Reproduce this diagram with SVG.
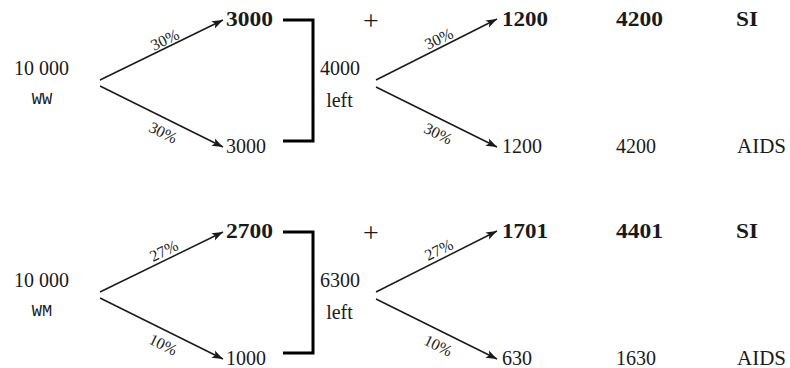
<svg xmlns="http://www.w3.org/2000/svg" width="790" height="368" viewBox="0 0 790 368" font-family="'Liberation Serif', serif">
<defs>
<marker id="arr" markerUnits="userSpaceOnUse" markerWidth="12" markerHeight="9" refX="11" refY="4.5" orient="auto" viewBox="0 0 12 9">
<path d="M0,0.5 L11,4.5 L0,8.5 L2.5,4.5 Z" fill="#1a1a1a"/>
</marker>
</defs>
<style>
text{font-family:"Liberation Serif","Times New Roman",serif;font-size:20px;fill:#1a1a1a}
.b{font-weight:bold}
.m{font-family:"Liberation Mono","DejaVu Sans Mono",monospace;font-size:17px}
.p{font-size:16px;text-anchor:middle}
.c{text-anchor:middle}
.plus{font-size:28px;text-anchor:middle}
.ln{stroke:#1a1a1a;stroke-width:1.5;fill:none;marker-end:url(#arr)}
.br{stroke:#000;stroke-width:3;fill:none}
</style>
<rect width="790" height="368" fill="#fff"/>
<g id="connectors">
<line class="ln" x1="100" y1="80" x2="223" y2="20"/>
<line class="ln" x1="100" y1="86" x2="223" y2="147"/>
<line class="ln" x1="376" y1="80" x2="497" y2="19"/>
<line class="ln" x1="376" y1="87" x2="497" y2="147"/>
<line class="ln" x1="100" y1="292" x2="223" y2="232"/>
<line class="ln" x1="100" y1="298" x2="223" y2="359"/>
<line class="ln" x1="376" y1="292" x2="497" y2="231"/>
<line class="ln" x1="376" y1="299" x2="497" y2="359"/>
<path class="br" d="M283,20 H313 V141 H283"/>
<path class="br" d="M283,232 H313 V353 H283"/>
<g transform="translate(165,40) rotate(-26)"><text class="p" y="5">30%</text></g>
<g transform="translate(163,133) rotate(26)"><text class="p" y="5">30%</text></g>
<g transform="translate(439,39) rotate(-26)"><text class="p" y="5">30%</text></g>
<g transform="translate(438,134) rotate(26)"><text class="p" y="5">30%</text></g>
<g transform="translate(164,251) rotate(-26)"><text class="p" y="5">27%</text></g>
<g transform="translate(163,345) rotate(26)"><text class="p" y="5">10%</text></g>
<g transform="translate(439,250) rotate(-26)"><text class="p" y="5">27%</text></g>
<g transform="translate(438,346) rotate(26)"><text class="p" y="5">10%</text></g>
</g>
<g id="ww"><text class="c" x="41.5" y="75">10 000</text><text class="m c" x="42" y="104">WW</text></g>
<g id="ww-si1"><text class="b" x="226" y="26" textLength="47" lengthAdjust="spacingAndGlyphs">3000</text></g>
<g id="ww-aids1"><text x="226" y="153">3000</text></g>
<g id="ww-left"><text class="c" x="340" y="75">4000</text><text class="c" x="339.5" y="107">left</text></g>
<g id="ww-plus"><text class="plus" x="371" y="30">+</text></g>
<g id="ww-si2"><text class="b" x="502" y="26" textLength="46" lengthAdjust="spacingAndGlyphs">1200</text></g>
<g id="ww-aids2"><text x="502" y="153">1200</text></g>
<g id="ww-si-total"><text class="b" x="616" y="26" textLength="47" lengthAdjust="spacingAndGlyphs">4200</text><text class="b" x="736" y="26" textLength="22" lengthAdjust="spacingAndGlyphs">SI</text></g>
<g id="ww-aids-total"><text x="616" y="153">4200</text><text x="737" y="153" textLength="49" lengthAdjust="spacingAndGlyphs">AIDS</text></g>
<g id="wm"><text class="c" x="41.5" y="287">10 000</text><text class="m c" x="42" y="316">WM</text></g>
<g id="wm-si1"><text class="b" x="226" y="238" textLength="47" lengthAdjust="spacingAndGlyphs">2700</text></g>
<g id="wm-aids1"><text x="226" y="365">1000</text></g>
<g id="wm-left"><text class="c" x="340" y="287">6300</text><text class="c" x="339.5" y="319">left</text></g>
<g id="wm-plus"><text class="plus" x="371" y="242">+</text></g>
<g id="wm-si2"><text class="b" x="502" y="238" textLength="46" lengthAdjust="spacingAndGlyphs">1701</text></g>
<g id="wm-aids2"><text x="502" y="365">630</text></g>
<g id="wm-si-total"><text class="b" x="616" y="238" textLength="47" lengthAdjust="spacingAndGlyphs">4401</text><text class="b" x="736" y="238" textLength="22" lengthAdjust="spacingAndGlyphs">SI</text></g>
<g id="wm-aids-total"><text x="616" y="365">1630</text><text x="737" y="365" textLength="49" lengthAdjust="spacingAndGlyphs">AIDS</text></g>
</svg>
